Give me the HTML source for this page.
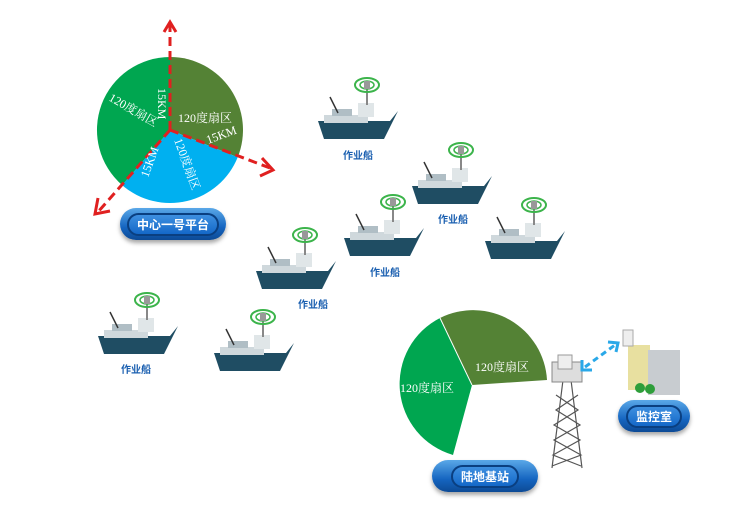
<!DOCTYPE html><html><head><meta charset="utf-8"><style>
body{margin:0;background:#fff;width:730px;height:517px;overflow:hidden;position:relative;font-family:"Liberation Serif","Noto Serif CJK SC",serif}
.btn{position:absolute;border-radius:18px;background:linear-gradient(#5aa8e8,#1565c0 60%,#0d4a95);box-shadow:0 3px 4px rgba(0,0,0,.35);color:#fff;font-weight:bold;font-size:12px;display:flex;align-items:center;justify-content:center;font-family:"Noto Sans CJK SC",sans-serif;white-space:nowrap}
.btn span{border:2px solid #0a3f80;border-radius:14px;padding:1px 8px;background:linear-gradient(#3d8fe0,#1468c8);white-space:nowrap}
.lb{position:absolute;color:#1a5fb0;font-size:10px;font-weight:bold;font-family:"Noto Sans CJK SC",sans-serif}
</style></head><body>
<svg width="730" height="517" style="position:absolute;left:0;top:0">
<defs>
<g id="ship">
<path d="M0,24 L72,24 L80,14 L66,42 L6,42 Z" fill="#1f4d63"/>
<rect x="6" y="18" width="44" height="8" fill="#cfd8dc"/>
<rect x="14" y="12" width="20" height="7" fill="#b0bec5"/>
<rect x="40" y="6" width="16" height="14" fill="#e0e6e8"/>
<line x1="20" y1="16" x2="12" y2="0" stroke="#333" stroke-width="1.5"/>
<line x1="49" y1="8" x2="49" y2="-10" stroke="#888" stroke-width="2"/>
<ellipse cx="49" cy="-12" rx="12" ry="7" fill="none" stroke="#3cb44b" stroke-width="2"/>
<ellipse cx="49" cy="-12" rx="7" ry="4" fill="none" stroke="#3cb44b" stroke-width="1.5"/>
<rect x="46" y="-16" width="6" height="8" fill="#999"/>
</g>
</defs>
<g transform="translate(170,130)">
<path d="M0,0 L0,-73 A73,73 0 0 1 67.7,27.3 Z" fill="#548235"/>
<path d="M0,0 L67.7,27.3 A73,73 0 0 1 -47.9,55.1 Z" fill="#00b0f0"/>
<path d="M0,0 L-47.9,55.1 A73,73 0 0 1 0,-73 Z" fill="#00a650"/>
<g stroke="#e02020" stroke-width="3" stroke-dasharray="9,5" fill="none">
<line x1="0" y1="0" x2="0" y2="-105"/><line x1="0" y1="0" x2="100" y2="38"/><line x1="0" y1="0" x2="-72" y2="82"/>
</g>
<g stroke="#e02020" stroke-width="3" fill="none">
<polyline points="-6,-98 0,-108 6,-98"/><polyline points="92,28 103,40 90,46"/><polyline points="-72,68 -75,84 -60,81"/>
</g>
<g fill="#fff" font-size="12">
<text x="8" y="-8">120度扇区</text>
<text x="38" y="14" transform="rotate(-20 38 14)">15KM</text>
<text x="-62" y="-30" transform="rotate(30 -62 -30)">120度扇区</text>
<text x="-12" y="-42" transform="rotate(90 -12 -42)">15KM</text>
<text x="4" y="10" transform="rotate(70 4 10)">120度扇区</text>
<text x="-22" y="48" transform="rotate(-70 -22 48)">15KM</text>
</g>
</g>
<g transform="translate(472,385)">
<path d="M0,0 L-32,-67 A74,74 0 0 1 75,-5 Z" fill="#548235"/>
<path d="M0,0 L-19,70 A74,74 0 0 1 -32,-67 Z" fill="#00a650"/>
<line x1="0" y1="0" x2="-32" y2="-67" stroke="#fff" stroke-width="1"/>
<g fill="#fff" font-size="12"><text x="3" y="-14">120度扇区</text><text x="-72" y="7">120度扇区</text></g>
</g>
<g stroke="#555" stroke-width="1.2" fill="none">
<line x1="563" y1="380" x2="552" y2="468"/><line x1="571" y1="380" x2="582" y2="468"/>
<path d="M556,395 L578,410 L554,425 L580,440 L553,455 L581,466"/>
<path d="M578,395 L556,410 L580,425 L554,440 L581,455 L552,466"/>
</g>
<rect x="552" y="362" width="30" height="20" fill="#ddd" stroke="#888"/>
<rect x="558" y="355" width="14" height="14" fill="#eee" stroke="#999"/>
<line x1="585" y1="367" x2="615" y2="345" stroke="#29a8e8" stroke-width="3" stroke-dasharray="6,4"/>
<polyline points="582,360 582,370 592,370" fill="none" stroke="#29a8e8" stroke-width="3"/>
<polyline points="608,342 618,343 616,352" fill="none" stroke="#29a8e8" stroke-width="3"/>
<rect x="628" y="345" width="22" height="45" fill="#e8e0a0"/>
<rect x="648" y="350" width="32" height="45" fill="#c8ccd0"/>
<rect x="623" y="330" width="10" height="16" fill="#eee" stroke="#aaa"/>
<circle cx="640" cy="388" r="5" fill="#2e9e3a"/><circle cx="650" cy="389" r="5" fill="#2e9e3a"/>
<use href="#ship" x="318" y="97"/>
<use href="#ship" x="412" y="162"/>
<use href="#ship" x="344" y="214"/>
<use href="#ship" x="485" y="217"/>
<use href="#ship" x="256" y="247"/>
<use href="#ship" x="98" y="312"/>
<use href="#ship" x="214" y="329"/>
</svg>
<div class="lb" style="left:343px;top:147px">作业船</div>
<div class="lb" style="left:438px;top:211px">作业船</div>
<div class="lb" style="left:370px;top:264px">作业船</div>
<div class="lb" style="left:298px;top:296px">作业船</div>
<div class="lb" style="left:121px;top:361px">作业船</div>
<div class="btn" style="left:120px;top:208px;width:106px;height:32px"><span>中心一号平台</span></div>
<div class="btn" style="left:432px;top:460px;width:106px;height:32px"><span>陆地基站</span></div>
<div class="btn" style="left:618px;top:400px;width:72px;height:32px"><span>监控室</span></div>
</body></html>
